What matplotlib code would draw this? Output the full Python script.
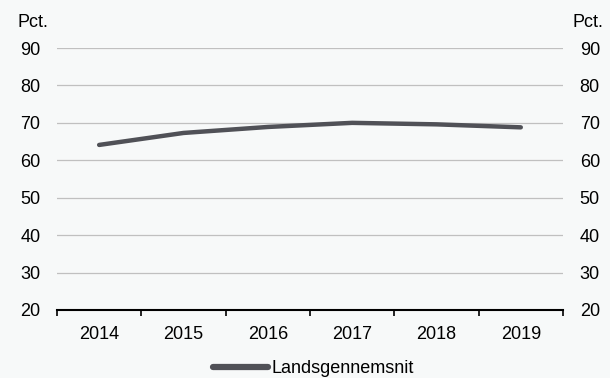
import numpy as np
import matplotlib
matplotlib.use("Agg")
import matplotlib.pyplot as plt
from matplotlib.ticker import FixedLocator

plt.rcParams["font.family"] = ["Liberation Sans", "DejaVu Sans"]

years = ["2014", "2015", "2016", "2017", "2018", "2019"]
landsgennemsnit = [64.1, 67.3, 68.9, 70.0, 69.6, 68.8]
yticks = [20, 30, 40, 50, 60, 70, 80, 90]

BG = "#f7f9f9"
LINE = "#505157"
FS = 13

fig = plt.figure(figsize=(6.1, 3.78), dpi=100, facecolor=BG)
ax = fig.add_axes([0.0934, 0.18, 0.8295, 0.693], facecolor=BG)

x = np.arange(len(years))
ax.plot(x, landsgennemsnit, color=LINE, lw=3.2, solid_capstyle="round",
        label="Landsgennemsnit")

ax.set_xlim(-0.5, len(years) - 0.5)
ax.set_ylim(20, 90)
ax.set_yticks(yticks)
ax.yaxis.grid(True, color="#c0c0c0", lw=0.9)
ax.set_axisbelow(True)

ax.set_xticks(x)
ax.set_xticklabels(years, fontsize=FS)
ax.xaxis.set_minor_locator(FixedLocator(np.arange(-0.5, len(years), 1.0)))
ax.tick_params(axis="x", which="major", length=0, pad=11.5)
ax.tick_params(axis="x", which="minor", length=4, width=1.2, color="black")
ax.tick_params(axis="y", length=0, labelsize=FS, pad=12,
               labelleft=True, labelright=True)

for s in ["top", "left", "right"]:
    ax.spines[s].set_visible(False)
ax.spines["bottom"].set_linewidth(1.5)
ax.spines["bottom"].set_color("black")

fig.text(0.028, 0.962, "Pct.", fontsize=FS, ha="left", va="top")
fig.text(0.938, 0.962, "Pct.", fontsize=FS, ha="left", va="top")

leg = fig.legend(loc="lower center", bbox_to_anchor=(0.514, -0.04), frameon=False,
                 fontsize=FS, handlelength=3.0, handletextpad=0.2)
for h in leg.get_lines():
    h.set_linewidth(4.5)

fig.savefig("out.png", dpi=100, facecolor=BG)
